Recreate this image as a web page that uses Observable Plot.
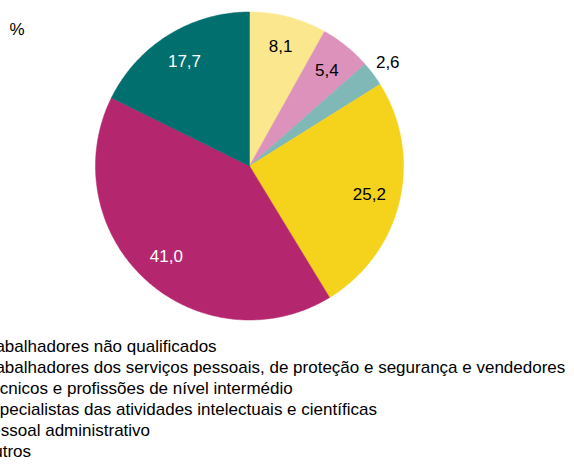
<!DOCTYPE html>
<html>
<head>
<meta charset="utf-8">
<script src="https://cdn.jsdelivr.net/npm/d3@7"></script>
<script src="https://cdn.jsdelivr.net/npm/@observablehq/plot@0.6"></script>
<style>
  html, body { margin: 0; padding: 0; background: #fff; overflow: hidden; }
  body { width: 574px; height: 471px; font-family: "Liberation Sans", Arial, sans-serif; }
  #legend { margin-left: -38px; padding-top: 6px; white-space: nowrap; font-size: 17px; color: #000; }
  .row { display: flex; align-items: center; height: 21px; }
  .sw { width: 12px; height: 12px; margin-right: 6px; flex: none; }
</style>
</head>
<body>
<div id="chart"></div>
<div id="legend"></div>
<script>
// Categories in legend order
const categories = [
  "Trabalhadores não qualificados",
  "Trabalhadores dos serviços pessoais, de proteção e segurança e vendedores",
  "Técnicos e profissões de nível intermédio",
  "Especialistas das atividades intelectuais e científicas",
  "Pessoal administrativo",
  "Outros"
];
// Share (%) per category
const values = [41.0, 25.2, 2.6, 5.4, 8.1, 17.7];
// Order in which the slices are drawn clockwise from 12 o'clock (indices into categories)
const clockwiseOrder = [4, 3, 2, 1, 0, 5];
const unitLabel = "%";

// Styling
const palette = ["#B4276F", "#F5D21B", "#7FB8B7", "#DC92BA", "#FBE78D", "#006F6D"];

const total = d3.sum(values);
let acc = 0;
const slices = clockwiseOrder.map(i => {
  const a0 = acc / total * 2 * Math.PI;
  acc += values[i];
  const a1 = acc / total * 2 * Math.PI;
  return {i, name: categories[i], value: values[i], color: palette[i], a0, a1};
});

const wedgePts = [];
for (const s of slices) {
  wedgePts.push({name: s.name, color: s.color, x: 0, y: 0});
  const n = Math.max(2, Math.ceil((s.a1 - s.a0) / (Math.PI / 360)));
  for (let k = 0; k <= n; k++) {
    const a = s.a0 + (s.a1 - s.a0) * k / n;
    wedgePts.push({name: s.name, color: s.color, x: Math.sin(a), y: Math.cos(a)});
  }
  wedgePts.push({name: s.name, color: s.color, x: 0, y: 0});
}

const labels = slices.map(s => {
  const m = (s.a0 + s.a1) / 2;
  const r = s.value < 3 ? 1.12 : 0.8;
  const dark = d3.lab(s.color).l < 50;
  return {
    x: r * Math.sin(m), y: r * Math.cos(m),
    text: s.value.toFixed(1).replace(".", ","),
    fill: (s.value >= 3 && dark) ? "#ffffff" : "#000000"
  };
});

const chart = Plot.plot({
  width: 574,
  height: 330,
  margin: 0,
  x: {domain: [-1, 1], range: [95, 403], axis: null},
  y: {domain: [-1, 1], range: [319.5, 11.5], axis: null},
  color: {type: "identity"},
  style: {fontFamily: "'Liberation Sans', Arial, sans-serif", background: "#fff"},
  marks: [
    Plot.line(wedgePts, {x: "x", y: "y", z: "name", fill: "color", stroke: "color", strokeWidth: 0.5}),
    Plot.text(labels, {x: "x", y: "y", text: "text", fill: "fill", fontSize: 17}),
    Plot.text([unitLabel], {frameAnchor: "top-left", text: d => d, dx: 9, dy: 29, fontSize: 17, textAnchor: "start", lineAnchor: "middle"})
  ]
});
document.getElementById("chart").appendChild(chart);

const legend = document.getElementById("legend");
categories.forEach((c, i) => {
  const row = document.createElement("div");
  row.className = "row";
  const sw = document.createElement("span");
  sw.className = "sw";
  sw.style.background = palette[i];
  const t = document.createElement("span");
  t.textContent = c;
  row.appendChild(sw);
  row.appendChild(t);
  legend.appendChild(row);
});
</script>
</body>
</html>
